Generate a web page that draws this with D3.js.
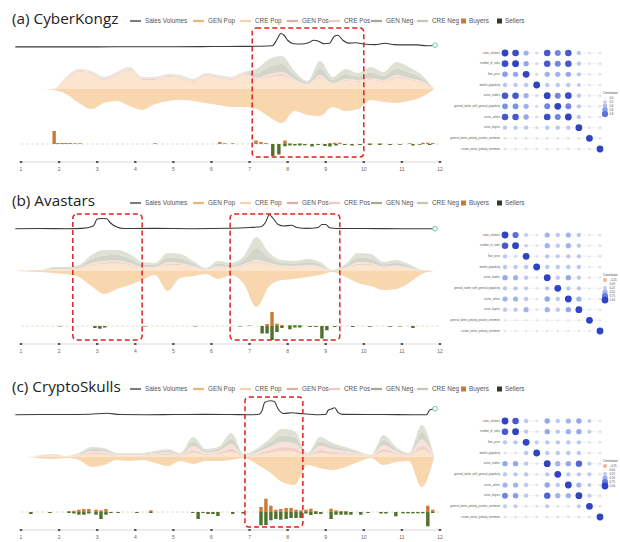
<!DOCTYPE html>
<html><head><meta charset="utf-8">
<script src="https://cdn.jsdelivr.net/npm/d3@7/dist/d3.min.js"></script>
<style>body{margin:0;background:#fff}svg{display:block}</style>
</head><body><svg id="c" width="620" height="542"></svg>
<script>
// ---------------- DATA ----------------
const months = [1,2,3,4,5,6,7,8,9,10,11,12];
const streamT = [0.85,1.18,1.52,1.85,2.18,2.52,2.85,3.18,3.52,3.85,4.18,4.52,4.85,5.18,5.52,5.85,6.18,6.52,6.85,7.18,7.52,7.85,8.18,8.52,8.85,9.18,9.52,9.85,10.18,10.52,10.85,11.18,11.52,11.85];
const layerKeys = ["GEN Pop","CRE Pop","GEN Pos","CRE Pos","GEN Neg","CRE Neg"];
const titles = ["(a) CyberKongz","(b) Avastars","(c) CryptoSkulls"];

// (a) CyberKongz
const A_genPop = [0,0,0,1,5,14,20,14,12,17,21,15,12,11,12,14,16,18,18,20,28,34,22,26,27,18,22,20,11,13,14,12,8,0];
const A_crePop = [0,0,0,0,9,17,15,9,14,19,9,9,12,11,7,13,11,9,14,9,12,13,8,4,11,5,8,7,9,7,11,9,6,0];
const A_genPos = [0,0,0,0,1,1,1,1,1,1,1,1,1,1,1,1,1,1,1,1,1.5,2,1,0.5,1.5,0.5,1,1,1,1,1.5,1,1,0];
const A_crePos = [0,0,0,0,1,1,1,1,1,1,1,1,1,1,1,1,1,1,1,1,1.5,2,1,0.5,1.5,0.5,1,1,1,1,1.5,1,1,0];
const A_genNeg = [0,0,0,0,0.5,0.5,0.5,0.5,0.5,0.5,0.5,0.5,0.5,0.5,0.5,0.5,0.5,0.5,0.5,4.5,7.5,8,4,1.5,7,3,5,3.5,5.5,4,6.5,5.5,3,0];
const A_creNeg = [0,0,0,0,0.5,0.5,0.5,0.5,0.5,0.5,0.5,0.5,0.5,0.5,0.5,0.5,0.5,0.5,0.5,4.5,7.5,8,4,1.5,7,3,5,3.5,5.5,4,6.5,5.5,3,0];
const A_salesT = [0.85,2,3,4,5,6,6.8,7.3,7.6,7.72,7.82,7.9,8.0,8.15,8.35,8.55,8.68,8.8,8.95,9.1,9.22,9.32,9.45,9.6,9.8,10.0,10.3,10.55,10.8,11.1,11.4,11.65,11.87];
const A_salesV = [1,1,1,2,2,3,4,5,8,50,90,80,45,22,20,28,45,40,22,25,70,78,45,26,28,20,16,25,16,14,14,8,12];
const A_buyersT = [1.87,1.97,2.08,2.18,2.29,2.42,2.55,4.52,6.22,6.35,6.56,7.17,7.30,7.43,7.93,8.06,8.32,9.11,9.24,9.37,10.16,10.42,11.21,11.55,11.68,11.81];
const A_buyersV = [26,2,2,2,2,1.5,1.5,1.5,4,1.5,1.5,7,4,2,7,1.5,1.5,2,2.5,2.5,1.5,1.5,1.5,2.5,2.5,2];
const A_sellersT = [7.61,7.77,7.93,8.06,8.19,8.32,8.45,8.64,8.80,8.98,9.11,9.27,9.50,9.69,9.90,10.16,10.42,10.69,10.95,11.29,11.47,11.73];
const A_sellersV = [24,21,4.5,3,3,3,2.5,5,2,4,5,3,2,3,2,2,2,2,1.5,3,1.5,2];
const A_boxes = [[7.07,10.0]];

// (b) Avastars
const B_genPop = [0,0.5,1,2,3,6,15,23,18,14,9,4,20,7,5,3,8,4,13,36,15,9,8,6,4,1,6,12,15,19,18,12,3,0];
const B_crePop = [0,0.2,0.4,1.4,1.4,2,5.5,7,7.5,6,3,3,6,6,3.5,1,3.5,3,5,8,6,4,3.5,4,3,0.4,2.5,6,6,3,4,2.5,0.4,0];
const B_genPos = [0,0.05,0.1,0.3,0.3,0.5,1,1.5,1.5,1,0.6,0.5,1.5,1,0.7,0.2,0.7,0.5,1,1.5,1,0.7,0.7,0.8,0.6,0.1,0.5,1.5,1,0.7,0.7,0.5,0.1,0];
const B_crePos = [0,0.05,0.1,0.3,0.3,0.5,1.5,1.5,1.5,1,0.6,0.5,1.5,1,0.8,0.3,0.8,0.5,1,1.5,1,0.8,0.8,1.2,0.9,0.1,0.5,1.5,1,0.8,0.8,0.5,0.1,0];
const B_genNeg = [0,0.1,0.2,1,1,1.5,4,5.5,5.5,4.5,2.4,2,4.5,4.5,2.5,0.75,2.5,2,4,12,5,2.75,2.5,3,2.25,0.2,1.75,4.5,4.5,2.25,2.75,1.75,0.2,0];
const B_creNeg = [0,0.1,0.2,1,1,1.5,4,5.5,5,4.5,2.4,2,4.5,4.5,2.5,0.75,2.5,2,4,11,5,2.75,2.5,3,2.25,0.2,1.75,4.5,4.5,2.25,2.75,1.75,0.2,0];
const B_salesT = [0.85,1.5,2.2,2.6,2.9,3.0,3.1,3.25,3.35,3.5,3.7,4.5,5.5,6.5,7.0,7.3,7.42,7.52,7.62,7.75,7.9,8.1,8.25,8.5,8.8,8.9,9.0,9.1,9.3,10,11,11.87];
const B_salesV = [2,3,2,4,20,67,70,68,40,15,3,4,2,5,10,15,45,95,70,30,20,25,10,4,10,30,30,8,3,3,2,2];
const B_buyersT = [7.0,7.46,7.59,7.72,7.85,8.06,8.19,8.32];
const B_buyersV = [1,4,28,4.6,2,2,2,2];
const B_sellersT = [2.02,2.94,3.07,3.20,4.25,5.57,6.75,7.33,7.46,7.59,7.72,7.85,8.06,8.19,8.32,8.59,8.74,8.90,9.03,9.24,9.71,10.16,10.69,10.95,11.29];
const B_sellersV = [1,4,5.4,3,1,1,1,15,15,28,12,4,6.6,3,3,2,2,25,8.6,2,2,1.5,1.5,1,4];
const B_boxes = [[2.36,4.18],[6.49,9.37]];

// (c) CryptoSkulls
const C_genPop = [0,0,1.5,2,1,3,10,8,3,4,3,6,9,4,7,4,4,3,1,7,15,25,28,8,11,13,10,5,1,8,5,4,30,0];
const C_crePop = [0,0,0.6,0.8,0.3,1,2.5,2.5,1,1,1,1.5,2,1,4,2,2.5,5,0.8,2,4,6,5,1,4,3,2.5,1.5,0.6,5,2.5,1,7,0];
const C_genPos = [0,0,0.4,0.5,0.2,0.6,1.5,1.5,0.6,0.6,0.6,1,1.2,0.6,3,1.2,1.5,3.5,0.5,1.2,2.5,4,4,0.6,3,2,1.5,1,0.4,3,1.5,0.6,4.5,0];
const C_crePos = [0,0,0.4,0.7,0.2,0.8,2,2,0.8,0.8,0.8,1.5,1.6,0.8,4,1.6,2,4.5,0.7,1.6,3.5,5,5,0.8,4,3,2,1.5,0.4,4,2,0.8,6,0];
const C_genNeg = [0,0,0.3,0.5,0.15,0.8,2,1.5,0.8,0.8,0.8,1,1.6,0.8,4.5,1.6,2,5.5,0.5,1.6,4,6.5,6,0.8,4.5,3,2,1,0.3,5,2,0.8,7.5,0];
const C_creNeg = [0,0,0.3,0.5,0.15,0.8,2,1.5,0.8,0.8,0.8,1,1.6,0.8,4.5,1.6,2,5.5,0.5,1.6,4,6.5,6,0.8,4.5,3,2,1,0.3,5,2,0.8,7,0];
const C_salesT = [0.85,1.5,2.2,2.8,3.25,3.6,4.3,5,5.8,6.5,7.0,7.25,7.33,7.4,7.55,7.65,7.75,7.9,8.1,8.4,8.8,9.0,9.06,9.15,9.24,9.32,9.45,10.5,11.3,11.65,11.73,11.87];
const C_salesV = [2,3,3,5,12,3,2,3,4,3,2,5,30,85,95,90,40,10,15,8,2,3,30,40,48,18,4,3,2,2,33,42];
const C_buyersT = [2.26,2.39,2.52,2.65,2.78,2.97,3.10,3.23,4.41,7.30,7.43,7.56,7.69,7.82,7.96,8.09,8.22,8.35,8.48,8.61,8.74,9.14,9.27,9.40,9.53,11.68,11.81];
const C_buyersV = [2,2.6,4.6,6,6,4.6,3.4,6,3.4,10,26.6,12.6,4.6,6,8,8,4.6,3.4,4.6,6.6,2,6.6,3.4,2,2,12.6,4.6];
const C_sellersT = [1.26,1.76,2.26,2.39,2.52,2.65,2.78,2.97,3.10,3.23,3.36,3.55,4.04,4.41,5.51,5.65,5.78,5.91,6.04,6.17,6.56,6.83,7.30,7.43,7.56,7.69,7.82,7.96,8.09,8.22,8.35,8.48,8.61,8.74,8.87,9.14,9.27,9.40,9.53,9.66,9.92,10.11,10.45,10.58,10.84,11.03,11.16,11.29,11.42,11.55,11.68,11.81];
const C_sellersV = [4,2,2,3,5.4,5.4,3,5.4,14,5.4,2,2,2,2,2,14,2,4,4,8,4,3,26.6,26,16.6,14,15.4,14,12,12,12,3,6,4,4,14,5.4,5.4,5.4,5.4,5.4,2,3,3,8.6,2.6,2.6,2.6,2.6,2.6,28.6,2];
const C_boxes = [[6.88,8.4]];

// correlation matrices
const corrVars = ["sales_volumes","number_of_sales","floor_price","market_popularity","active_traders","general_twitter_with_general_popularity","active_sellers","active_buyers","general_twitter_polarity_positive_sentiment","creator_twitter_polarity_sentiment"];
const A_corr = [
 [1.0,0.95,0.5,0.1,0.9,0.7,0.9,0.3,0.05,0.05],
 [0.95,1.0,0.55,0.1,0.9,0.7,0.9,0.3,0.05,0.05],
 [0.6,0.55,1.0,0.1,0.5,0.5,0.55,0.3,0.05,0.05],
 [0.3,0.3,0.3,1.0,0.3,0.3,0.3,0.25,0.05,0.05],
 [0.9,0.9,0.5,0.1,1.0,0.7,0.95,0.3,0.05,0.05],
 [0.65,0.65,0.5,0.1,0.7,1.0,0.7,0.3,0.05,0.05],
 [0.9,0.9,0.55,0.1,0.95,0.7,1.0,0.3,0.05,0.05],
 [0.3,0.3,0.3,0.1,0.3,0.3,0.3,1.0,0.05,0.05],
 [0.05,0.05,0.05,0.05,0.05,0.05,0.05,0.05,1.0,0.05],
 [0.05,0.05,0.05,0.05,0.05,0.05,0.05,0.05,0.05,1.0]];
const B_corr = [
 [1.0,0.8,0.25,0.05,0.5,0.3,0.5,0.3,0.03,-0.05],
 [0.9,1.0,0.2,0.05,0.5,0.3,0.5,0.3,0.03,-0.05],
 [0.3,0.1,1.0,0.05,0.3,0.25,0.3,0.3,0.03,-0.05],
 [0.3,0.3,0.3,1.0,0.3,0.3,0.3,0.3,0.03,-0.05],
 [0.55,0.5,0.3,0.05,1.0,0.3,0.55,0.3,-0.05,0.03],
 [0.3,0.3,0.25,0.05,0.3,1.0,0.3,0.3,0.03,0.03],
 [0.5,0.5,0.3,0.05,0.55,0.3,1.0,0.5,0.03,0.03],
 [0.3,0.3,0.5,0.05,0.5,0.3,0.55,1.0,0.03,0.03],
 [0.03,0.03,0.03,0.03,0.03,0.03,0.03,0.03,1.0,0.03],
 [0.03,0.03,0.03,0.03,0.03,0.03,0.03,0.03,0.03,1.0]];
const C_corr = [
 [1.0,0.9,0.3,0.05,0.55,0.3,0.5,0.55,0.25,0.05],
 [0.9,1.0,0.3,0.05,0.55,0.3,0.5,0.55,0.25,0.05],
 [0.3,0.3,1.0,0.25,0.3,0.3,0.3,0.3,0.05,0.05],
 [0.05,0.05,0.3,1.0,0.3,0.3,0.3,0.3,-0.05,0.05],
 [0.55,0.55,0.3,0.05,1.0,0.5,0.55,0.85,0.25,0.05],
 [0.3,0.3,0.3,0.05,0.3,1.0,0.3,0.3,0.25,0.05],
 [0.5,0.5,0.3,0.05,0.55,0.3,1.0,0.5,0.25,0.05],
 [0.7,0.6,0.3,0.05,0.85,0.5,0.5,1.0,0.25,0.05],
 [0.25,0.25,0.05,-0.05,0.25,0.05,0.05,0.25,1.0,-0.05],
 [0.05,0.05,0.05,0.05,0.05,-0.05,0.05,0.05,-0.05,1.0]];
const A_corrLegend = [0.0,0.2,0.4,0.6,0.8];
const B_corrLegend = [-0.25,0.0,0.25,0.5,0.75,1.0];
const C_corrLegend = [-0.25,0.0,0.25,0.5,0.75,1.0];

// ---------------- STYLE / LAYOUT ----------------
const fillCol = {"GEN Pop":"#f8d4aa","CRE Pop":"#fbe4cb","GEN Pos":"#f0d0c6","CRE Pos":"#f6e0d8","GEN Neg":"#d0d3c4","CRE Neg":"#dcdfd2"};
const legCol = {"Sales Volumes":"#333","GEN Pop":"#f2b474","CRE Pop":"#f7d2a6","GEN Pos":"#deaea4","CRE Pos":"#efc9be","GEN Neg":"#a3ab92","CRE Neg":"#c3c9b2"};
const buyCol = "#c97a36", sellCol = "#50702c";
const legLineX = [130,193,240,287,329,371,417];
const legBoxX = [461,497];

const panels = [
 {title:titles[0], ly:21, genPop:A_genPop, up:[A_crePop,A_genPos,A_crePos,A_genNeg,A_creNeg], sT:A_salesT, sV:A_salesV, bT:A_buyersT, bV:A_buyersV, eT:A_sellersT, eV:A_sellersV, boxes:A_boxes, boxY:[7,136], corr:A_corr, cleg:A_corrLegend, cfmt:d3.format(".1f")},
 {title:titles[1], ly:203, genPop:B_genPop, up:[B_crePop,B_genPos,B_crePos,B_genNeg,B_creNeg], sT:B_salesT, sV:B_salesV, bT:B_buyersT, bV:B_buyersV, eT:B_sellersT, eV:B_sellersV, boxes:B_boxes, boxY:[11,137], corr:B_corr, cleg:B_corrLegend, cfmt:d3.format(".2f")},
 {title:titles[2], ly:389, genPop:C_genPop, up:[C_crePop,C_genPos,C_crePos,C_genNeg,C_creNeg], sT:C_salesT, sV:C_salesV, bT:C_buyersT, bV:C_buyersV, eT:C_sellersT, eV:C_sellersV, boxes:C_boxes, boxY:[8,138], corr:C_corr, cleg:C_corrLegend, cfmt:d3.format(".2f")}
];

const svg = d3.select("#c");
const x = d3.scaleLinear().domain([1,12]).range([21,440]);
const upKeys = layerKeys.slice(1);
const corrX = d3.scalePoint().domain(d3.range(10)).range([505,600]);
const corrColor = d3.scaleLinear().domain([-0.3,0,0.5,1]).range(["#f2a48a","#e4e4e8","#9fb3f2","#2f43c3"]);
const corrR = d3.scaleSqrt().domain([0,1]).range([0.7,3.4]);
const FONT = "Liberation Sans, Arial, sans-serif";

panels.forEach(P => {
  const g = svg.append("g");
  const ly = P.ly;
  g.append("text").attr("x",12).attr("y",ly+3).attr("font-family","Open Sans, sans-serif")
   .attr("font-size",15.3).attr("fill","#222").text(P.title);
  const legItems = ["Sales Volumes"].concat(layerKeys);
  legItems.forEach((k,i)=>{
    g.append("line").attr("x1",legLineX[i]).attr("x2",legLineX[i]+11).attr("y1",ly).attr("y2",ly)
     .attr("stroke",legCol[k]).attr("stroke-width",k==="Sales Volumes"?1.3:2.2);
    g.append("text").attr("x",legLineX[i]+15).attr("y",ly+2.3).attr("font-family",FONT)
     .attr("font-size",6.4).attr("fill","#555").text(k);
  });
  [["Buyers",buyCol],["Sellers","#2c3a22"]].forEach(([k,c],i)=>{
    g.append("rect").attr("x",legBoxX[i]).attr("y",ly-2.5).attr("width",5).attr("height",5).attr("fill",c);
    g.append("text").attr("x",legBoxX[i]+8).attr("y",ly+2.3).attr("font-family",FONT)
     .attr("font-size",6.4).attr("fill","#555").text(k);
  });

  // sales line
  const sBase = ly+26;
  const ys = d3.scaleLinear().domain([0,100]).range([sBase, sBase-15]);
  const sData = P.sT.map((t,i)=>[t,P.sV[i]]);
  g.append("path").datum(sData).attr("fill","none").attr("stroke","#3a3a3a").attr("stroke-width",1.1)
   .attr("d", d3.line().x(d=>x(d[0])).y(d=>ys(d[1])).curve(d3.curveMonotoneX));
  const last = sData[sData.length-1];
  g.append("circle").attr("cx",x(last[0])).attr("cy",ys(last[1])).attr("r",2.3)
   .attr("fill","#fff").attr("stroke","#6cc4b4").attr("stroke-width",1);

  // stream
  const cy = ly+68;
  const yst = d3.scaleLinear().domain([-40,40]).range([cy+40, cy-40]);
  const rows = streamT.map((t,i)=>{ const o={t}; upKeys.forEach((k,j)=>o[k]=P.up[j][i]); o.gp=P.genPop[i]; return o; });
  const curve = d3.curveMonotoneX;
  g.append("path").datum(rows).attr("fill",fillCol["GEN Pop"]).attr("fill-opacity",0.95)
   .attr("d", d3.area().x(d=>x(d.t)).y0(yst(0)).y1(d=>yst(-d.gp)).curve(curve));
  const stacked = d3.stack().keys(upKeys)(rows);
  stacked.forEach(s=>{
    g.append("path").datum(s).attr("fill",fillCol[s.key]).attr("fill-opacity",0.95)
     .attr("d", d3.area().x(d=>x(d.data.t)).y0(d=>yst(d[0])).y1(d=>yst(d[1])).curve(curve));
  });

  // bars
  const bBase = ly+123;
  const yb = d3.scaleLinear().domain([0,30]).range([0,15]);
  g.append("line").attr("x1",x(1)).attr("x2",x(12)).attr("y1",bBase).attr("y2",bBase)
   .attr("stroke","#e3d6b8").attr("stroke-width",0.8).attr("stroke-dasharray","3,2");
  const bw = 3.4;
  g.selectAll(null).data(P.bT.map((t,i)=>[t,P.bV[i]])).join("rect")
   .attr("x",d=>x(d[0])-bw/2).attr("width",bw).attr("y",d=>bBase-yb(d[1])).attr("height",d=>yb(d[1]))
   .attr("fill",buyCol);
  g.selectAll(null).data(P.eT.map((t,i)=>[t,P.eV[i]])).join("rect")
   .attr("x",d=>x(d[0])-bw/2).attr("width",bw).attr("y",bBase).attr("height",d=>yb(d[1]))
   .attr("fill",sellCol);

  // axis
  const ay = ly+141;
  g.append("line").attr("x1",x(1)).attr("x2",x(12)).attr("y1",ay).attr("y2",ay).attr("stroke","#cfcfcf").attr("stroke-width",0.8);
  months.forEach(m=>{
    g.append("rect").attr("x",x(m)-1.2).attr("y",ay-1).attr("width",2.4).attr("height",2).attr("fill","#555");
    g.append("text").attr("x",x(m)).attr("y",ay+9).attr("text-anchor","middle").attr("font-family",FONT)
     .attr("font-size",5).attr("fill","#666").text(m);
  });

  // red boxes
  P.boxes.forEach(b=>{
    g.append("rect").attr("x",x(b[0])).attr("y",ly+P.boxY[0]).attr("width",x(b[1])-x(b[0])).attr("height",P.boxY[1]-P.boxY[0])
     .attr("rx",4).attr("fill","none").attr("stroke","#e21f1f").attr("stroke-width",1.5).attr("stroke-dasharray","5,3");
  });

  // correlation dot plot
  const cyS = d3.scalePoint().domain(d3.range(10)).range([ly+32, ly+128]);
  const cg = g.append("g");
  d3.range(10).forEach(r=>{
    cg.append("line").attr("x1",503).attr("x2",602).attr("y1",cyS(r)).attr("y2",cyS(r)).attr("stroke","#ececec").attr("stroke-width",0.6);
    cg.append("text").attr("x",500).attr("y",cyS(r)+0.8).attr("text-anchor","end").attr("font-family",FONT)
      .attr("font-size",2.6).attr("fill","#555").text(corrVars[r]);
    P.corr[r].forEach((v,c)=>{
      cg.append("circle").attr("cx",corrX(c)).attr("cy",cyS(r)).attr("r",corrR(Math.abs(v)))
        .attr("fill",corrColor(v));
    });
  });
  const lgy = ly+73;
  cg.append("text").attr("x",603).attr("y",lgy).attr("font-family",FONT).attr("font-size",3).attr("fill","#444").text("Correlation");
  P.cleg.forEach((v,i)=>{
    cg.append("circle").attr("cx",605).attr("cy",lgy+4+i*4).attr("r",corrR(Math.abs(v))).attr("fill",corrColor(v));
    cg.append("text").attr("x",609.5).attr("y",lgy+5+i*4).attr("font-family",FONT).attr("font-size",2.8).attr("fill","#444").text(P.cfmt(v));
  });
});
</script></body></html>
